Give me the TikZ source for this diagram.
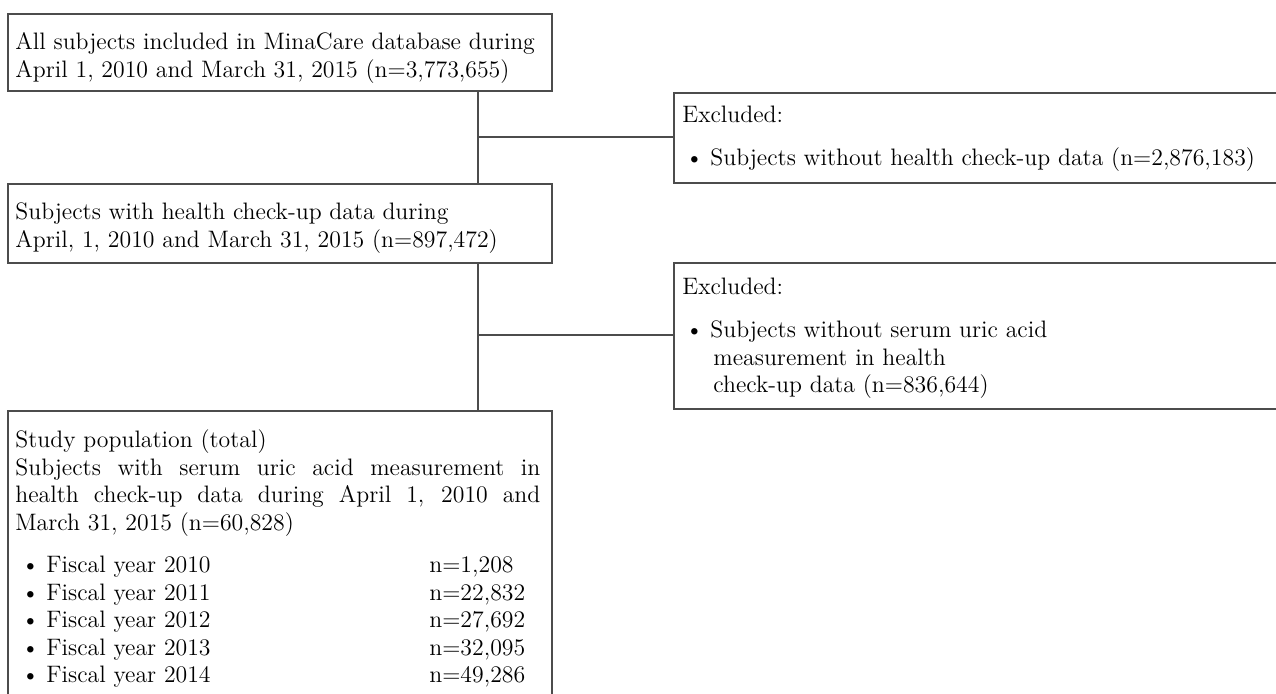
\documentclass[tikz,border=0pt]{standalone}
\usetikzlibrary{positioning}
\newcommand{\flowfont}{\fontsize{11.9}{13.75}\selectfont}
\newcommand{\bul}{\makebox[12.5pt][l]{\textbullet}}
\tikzset{
  box/.style={draw=black!70, line width=0.9pt, anchor=north west, inner sep=0pt},
  txt/.style={anchor=base west, inner sep=0pt, align=left, font=\flowfont},
  link/.style={draw=black!70, line width=0.9pt},
}
\begin{document}
\begin{tikzpicture}[x=0.5pt,y=-0.5pt]
  \useasboundingbox (0,0) rectangle (1276,694);
  \clip (0,0) rectangle (1276,694);
  % boxes
  \node[box, minimum width=272pt, minimum height=38.5pt] (all) at (7,13) {};
  \node[box, minimum width=272pt, minimum height=39.5pt] (checkup) at (7,183) {};
  \node[box, minimum width=272pt, minimum height=150pt] (study) at (7,410) {};
  \node[box, minimum width=350pt, minimum height=45pt] (excl1) at (673,92) {};
  \node[box, minimum width=350pt, minimum height=73pt] (excl2) at (673,262) {};
  % texts (placed at the baseline of their last line)
  \node[txt] (alltxt) at (15,77.5)
    {All subjects included in MinaCare database during\\
     April 1, 2010 and March 31, 2015 (n=3,773,655)};
  \node[txt] (checkuptxt) at (15,247.5)
    {Subjects with health check-up data during\\
     April, 1, 2010 and March 31, 2015 (n=897,472)};
  \node[txt] (excl1head) at (682,123) {Excluded:};
  \node[txt] (excl1txt) at (685,166)
    {\bul Subjects without health check-up data (n=2,876,183)};
  \node[txt] (excl2head) at (682,295) {Excluded:};
  \node[txt] (excl2txt) at (685,393)
    {\bul Subjects without serum uric acid\\
     \hspace*{14pt}measurement in health\\
     \hspace*{14pt}check-up data (n=836,644)};
  \node[txt] (studytxt) at (15,530.5)
    {Study population (total)\\
     \makebox[262.5pt][s]{Subjects with serum uric acid measurement in}\\
     \makebox[262.5pt][s]{health check-up data during April 1, 2010 and}\\
     March 31, 2015 (n=60,828)};
  \node[txt] (years) at (21,683)
    {\bul\makebox[191.5pt][l]{Fiscal year 2010}n=1,208\\
     \bul\makebox[191.5pt][l]{Fiscal year 2011}n=22,832\\
     \bul\makebox[191.5pt][l]{Fiscal year 2012}n=27,692\\
     \bul\makebox[191.5pt][l]{Fiscal year 2013}n=32,095\\
     \bul\makebox[191.5pt][l]{Fiscal year 2014}n=49,286};
  % connectors
  \coordinate (j1) at (478,137);
  \coordinate (j2) at (478,335);
  \draw[link] (j1 |- all.south) -- (j1 |- checkup.north);
  \draw[link] (j1) -- (j1 -| excl1.west);
  \draw[link] (j2 |- checkup.south) -- (j2 |- study.north);
  \draw[link] (j2) -- (j2 -| excl2.west);
\end{tikzpicture}
\end{document}
